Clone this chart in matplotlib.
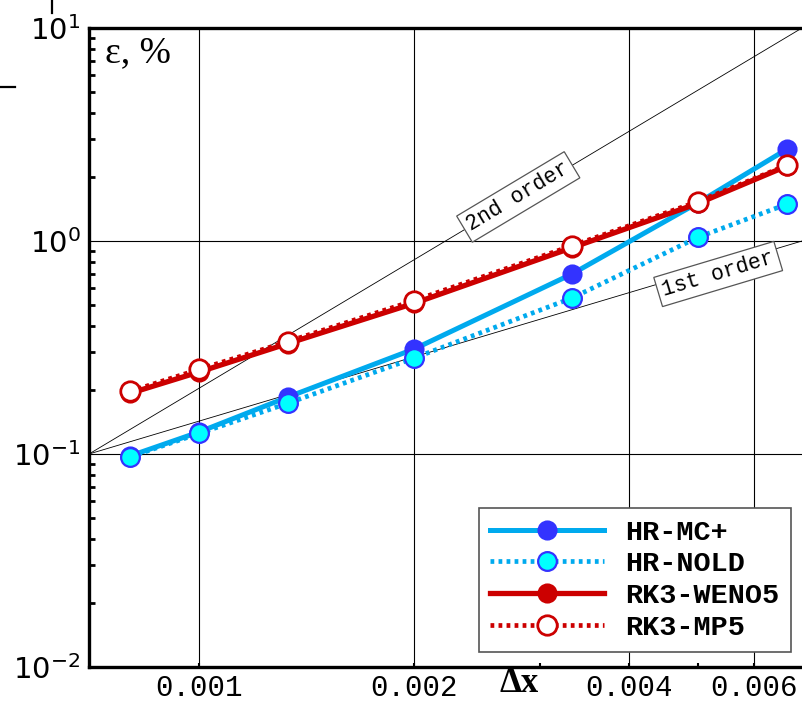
import matplotlib
matplotlib.use("Agg")
import matplotlib.pyplot as plt
from matplotlib.lines import Line2D
from matplotlib.ticker import FixedLocator, NullFormatter, FixedFormatter

plt.rcParams['mathtext.fontset'] = 'custom'
plt.rcParams['mathtext.rm'] = 'Liberation Mono'
plt.rcParams['mathtext.it'] = 'Liberation Mono'
plt.rcParams['mathtext.bf'] = 'Liberation Mono:bold'

# ---- data ----
dx = [0.0008, 0.001, 0.00133, 0.002, 0.00333, 0.005, 0.00667]
hr_mc = [0.098, 0.127, 0.185, 0.311, 0.70, 1.51, 2.70]
hr_nold = [0.097, 0.125, 0.173, 0.282, 0.54, 1.04, 1.49]
rk3_weno5 = [0.193, 0.243, 0.330, 0.510, 0.93, 1.50, 2.25]
rk3_mp5 = [0.197, 0.250, 0.337, 0.525, 0.95, 1.53, 2.27]

ref_x = [0.0007, 0.007]
first_order = [0.1, 1.0]
second_order = [0.1, 10.0]

x_ticks = [0.001, 0.002, 0.004, 0.006]
x_tick_labels = ['0.001', '0.002', '0.004', '0.006']
x_minor = [0.003, 0.005]
y_ticks = [0.01, 0.1, 1, 10]
y_tick_labels = [r'$\mathregular{10^{-2}}$', r'$\mathregular{10^{-1}}$',
                 r'$\mathregular{10^{0}}$', r'$\mathregular{10^{1}}$']

series_labels = ['HR-MC+', 'HR-NOLD', 'RK3-WENO5', 'RK3-MP5']

LBLUE = '#00aaee'
BLUE = '#3333ff'
CYAN = '#00ffff'
RED = '#cc0000'

fig = plt.figure(figsize=(8.02, 7.01), dpi=100)
ax = fig.add_axes([89/802, 1-667/701, 1-89/802, (667-28)/701])
ax.set_xscale('log')
ax.set_yscale('log')
ax.set_xlim(0.0007, 0.007)
ax.set_ylim(0.01, 10)

# grid
for xv in x_ticks:
    ax.axvline(xv, color='black', lw=0.8, zorder=1)
for yv in [0.1, 1]:
    ax.axhline(yv, color='black', lw=0.8, zorder=1)

# reference order lines
ax.plot(ref_x, first_order, color='black', lw=0.6, zorder=2)
ax.plot(ref_x, second_order, color='black', lw=0.6, zorder=2)

dot = (0, (0.8, 0.9))
l1, = ax.plot(dx, hr_mc, color=LBLUE, lw=3.6, ls='-', marker='o', ms=13,
              mfc=BLUE, mec=BLUE, mew=1.5, zorder=4, label=series_labels[0])
l2, = ax.plot(dx, hr_nold, color=LBLUE, lw=3.4, ls=dot, marker='o', ms=13.5,
              mfc=CYAN, mec=BLUE, mew=1.6, zorder=5, label=series_labels[1])
l3, = ax.plot(dx, rk3_weno5, color=RED, lw=3.8, ls='-', marker='o', ms=13,
              mfc=RED, mec=RED, mew=1.5, zorder=6, label=series_labels[2])
l4, = ax.plot(dx, rk3_mp5, color=RED, lw=3.4, ls=dot, marker='o', ms=14,
              mfc='white', mec=RED, mew=2.0, zorder=7, label=series_labels[3])

# order annotations
bbox = dict(boxstyle='square,pad=0.22', fc='white', ec='#555555', lw=0.9)
ax.text(0.0028, 1.61, '2nd order', rotation=30.9, rotation_mode='anchor',
        ha='center', va='center', fontsize=15.5, family='Liberation Mono',
        bbox=bbox, zorder=8)
ax.text(0.00534, 0.70, '1st order', rotation=16.7, rotation_mode='anchor',
        ha='center', va='center', fontsize=15.5, family='Liberation Mono',
        bbox=bbox, zorder=8)

# ticks
ax.xaxis.set_major_locator(FixedLocator(x_ticks))
ax.xaxis.set_major_formatter(FixedFormatter(x_tick_labels))
ax.xaxis.set_minor_locator(FixedLocator(x_minor))
ax.xaxis.set_minor_formatter(NullFormatter())
ax.yaxis.set_major_locator(FixedLocator(y_ticks))
ax.yaxis.set_major_formatter(FixedFormatter(y_tick_labels))
ax.tick_params(axis='both', which='both', direction='in', width=1.5)
ax.tick_params(axis='x', which='major', length=3, pad=5, labelsize=21)
ax.tick_params(axis='x', which='minor', length=3)
ax.tick_params(axis='y', which='major', length=0, pad=6, labelsize=21)
ax.tick_params(axis='y', which='minor', length=4, width=2)
ax.tick_params(top=False, right=False, which='both')
for lab in ax.get_xticklabels():
    lab.set_family('Liberation Mono')

for s in ['left', 'bottom', 'top']:
    ax.spines[s].set_linewidth(2.4)
ax.spines['right'].set_visible(False)

leg = ax.legend(handles=[l1, l2, l3, l4], loc='lower right',
                bbox_to_anchor=(0.9846, 0.0235), borderaxespad=0,
                prop={'family': 'Liberation Mono', 'weight': 'bold', 'size': 20.5},
                handlelength=4.0, handletextpad=0.75, labelspacing=0.2,
                borderpad=0.4, fancybox=False, framealpha=1,
                edgecolor='#555555')
leg.get_frame().set_linewidth(1.2)
leg.set_zorder(10)

# axis titles
ax.text(0.022, 0.947, 'ε, %', transform=ax.transAxes, ha='left',
        va='baseline', fontsize=27, family='Liberation Serif')
fig.text(500/802, 1/701, 'Δx', ha='left', va='bottom', fontsize=25,
         family='Liberation Serif', weight='bold')

# stray marks at top-left
fig.add_artist(Line2D([52/802, 52/802], [1, 1-13/701], color='black', lw=1.6))
fig.add_artist(Line2D([0, 15/802], [1-87/701, 1-87/701], color='black', lw=1.6))

fig.savefig('out.png', dpi=100)
